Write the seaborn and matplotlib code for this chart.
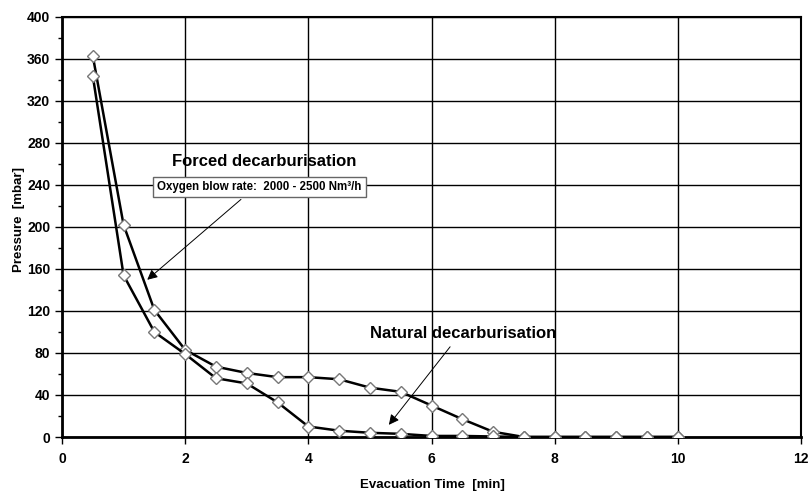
import matplotlib
matplotlib.use("Agg")
import matplotlib.pyplot as plt
import seaborn as sns
import pandas as pd
from matplotlib.ticker import MultipleLocator

time_min = [0.5, 1.0, 1.5, 2.0, 2.5, 3.0, 3.5, 4.0, 4.5, 5.0, 5.5, 6.0, 6.5,
            7.0, 7.5, 8.0, 8.5, 9.0, 9.5, 10.0]
forced_mbar = [363, 202, 121, 83, 67, 61, 57, 57, 55, 47, 43, 30, 17,
               5, 0, 0, 0, 0, 0, 0]
natural_mbar = [344, 154, 100, 79, 56, 51, 33, 10, 6, 4, 3, 1, 1,
                0.5, 0, 0, 0, 0, 0, 0]
series_names = ["Forced decarburisation", "Natural decarburisation"]

df = pd.concat([
    pd.DataFrame({"time": time_min, "pressure": forced_mbar, "series": series_names[0]}),
    pd.DataFrame({"time": time_min, "pressure": natural_mbar, "series": series_names[1]}),
])

sns.set_style("white")
plt.rcParams["font.family"] = ["Liberation Sans", "DejaVu Sans"]
plt.rcParams["text.color"] = "black"
plt.rcParams["axes.labelcolor"] = "black"
plt.rcParams["xtick.color"] = "black"
plt.rcParams["ytick.color"] = "black"

fig = plt.figure(figsize=(8.08, 4.94), dpi=100)
ax = fig.add_axes([62/808, 57/494, 739/808, 420/494])

sns.lineplot(data=df, x="time", y="pressure", units="series", estimator=None,
             color="black", linewidth=1.8, marker="D", markersize=6,
             markerfacecolor="white", markeredgecolor="#777777", markeredgewidth=1.0,
             ax=ax, legend=False, zorder=3)

ax.set_xlim(0, 12)
ax.set_ylim(0, 400)
ax.xaxis.set_major_locator(MultipleLocator(2))
ax.yaxis.set_major_locator(MultipleLocator(40))
ax.yaxis.set_minor_locator(MultipleLocator(20))
ax.grid(True, which="major", color="black", linewidth=1.0)
ax.tick_params(axis="both", which="major", direction="out", length=5, width=1,
               color="black", labelsize=10, labelcolor="black")
ax.tick_params(axis="y", which="minor", direction="out", length=3, width=1, color="black",
               left=True)
ax.tick_params(axis="x", which="major", bottom=True, pad=6)
ax.tick_params(axis="y", which="major", left=True)
for lab in ax.get_xticklabels() + ax.get_yticklabels():
    lab.set_fontweight("bold")
for side in ["top", "right", "bottom", "left"]:
    ax.spines[side].set_visible(True)
    ax.spines[side].set_color("black")
ax.spines["bottom"].set_linewidth(2.0)
ax.spines["left"].set_linewidth(2.0)
ax.spines["top"].set_linewidth(1.5)
ax.spines["right"].set_linewidth(1.5)

ax.set_xlabel("Evacuation Time  [min]", fontsize=9.5, fontweight="bold", color="black")
ax.set_ylabel("Pressure  [mbar]", fontsize=9.5, fontweight="bold", color="black")
ax.xaxis.set_label_coords((432 - 62) / 739, -(479 - 437) / 420)
ax.yaxis.set_label_coords(-(62 - 25) / 739, (437 - 220) / 420)

ax.text(3.28, 262, "Forced decarburisation", fontsize=12, fontweight="bold",
        ha="center", va="center", zorder=5, color="black")
ax.text(1.55, 238, "Oxygen blow rate:  2000 - 2500 Nm³/h", fontsize=8.3,
        fontweight="bold", ha="left", va="center", zorder=5, color="black",
        bbox=dict(boxstyle="square,pad=0.35", facecolor="white", edgecolor="#666666", linewidth=1))
ax.annotate("", xy=(1.35, 148), xytext=(2.94, 228),
            arrowprops=dict(arrowstyle="-|>", color="black", lw=0.7, mutation_scale=15),
            zorder=5)

ax.text(6.51, 99, "Natural decarburisation", fontsize=12, fontweight="bold",
        ha="center", va="center", zorder=5, color="black")
ax.annotate("", xy=(5.28, 9.5), xytext=(6.33, 88),
            arrowprops=dict(arrowstyle="-|>", color="black", lw=0.7, mutation_scale=15),
            zorder=5)

fig.savefig("out.png", dpi=100)
